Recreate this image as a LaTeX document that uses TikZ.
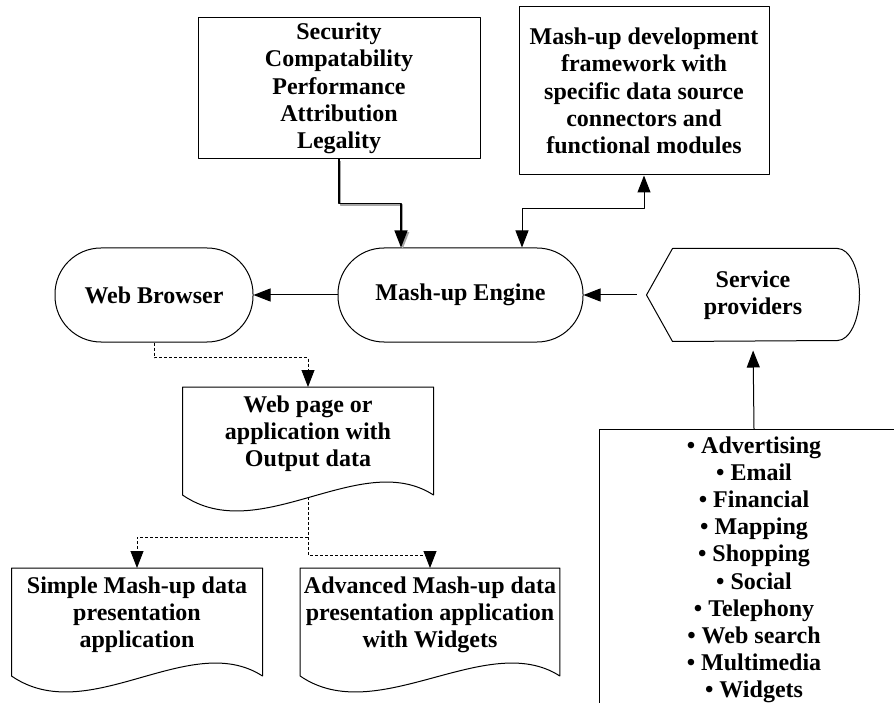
\documentclass[tikz,border=0pt]{standalone}
\usepackage{fontspec}
\setmainfont{Liberation Serif}
\usetikzlibrary{arrows.meta,calc}

\tikzset{
	box/.style={draw, rectangle, align=center},
	pill/.style={draw, rectangle, rounded corners=46, minimum height=94, align=center},
	doc/.style={anchor=north, minimum width=250, inner ysep=8, align=center},
	dashline/.style={dash pattern=on 3pt off 2pt, line width=0.8pt},
	shadowline/.style={line width=1.3pt, preaction={draw=gray!70, line width=1.3pt, transform canvas={shift={(1.6,-1.6)}}}}
}
% outline of a document symbol (wavy bottom)
\newcommand{\docframe}[1]{%
	\draw (#1.north west) -- (#1.north east) -- ($(#1.north east)+(0,-108)$)
	.. controls ($(#1.north east)+(-73,-61)$) and ($(#1.north west)+(77,-161)$) .. ($(#1.north west)+(0,-108)$) -- cycle;}

\begin{document}
\begin{tikzpicture}[x=1pt, y=1pt, line width=1pt, line join=round,
	font=\fontsize{24}{27.2}\selectfont\bfseries, >={Triangle[length=17pt,width=13pt]}]
	\useasboundingbox (0,0) rectangle (894,-703);
	\clip (0,0) rectangle (894,-703);
	% top boxes
	\node[box, minimum width=282, minimum height=141] (secbox) at (339,-88.5)
		{Security\\Compatability\\Performance\\Attribution\\Legality};
	\node[box, minimum width=250, minimum height=168] (frame) at (644,-91)
		{Mash-up development\\framework with\\specific data source\\connectors and\\functional modules};
	% middle row
	\node[pill, minimum width=198] (browser) at (154,-295) {Web Browser};
	\node[pill, minimum width=245] (engine) at (460.5,-295) {Mash-up Engine};
	\node[minimum width=212, minimum height=92, align=center] (service) at (753,-295) {Service\\providers};
	\draw (service.west) -- ([xshift=26]service.north west) -- ([xshift=-22]service.north east)
		arc[start angle=90, end angle=-90, x radius=22, y radius=46] -- ([xshift=26]service.south west) -- cycle;
	% documents
	\node[doc] (webpage) at (308,-387) {Web page or\\application with\\Output data};
	\node[doc] (simple) at (137,-568) {Simple Mash-up data\\presentation\\application};
	\node[doc] (adv) at (430,-568) {Advanced Mash-up data\\presentation application\\with Widgets};
	\docframe{webpage}
	\docframe{simple}
	\docframe{adv}
	\coordinate (webfoot) at ($(webpage.north)+(0,-110)$);
	% service list
	\node[draw, anchor=north, minimum width=310, inner ysep=7, align=center] (list) at (754,-429)
		{\textbullet\ Advertising\\\textbullet\ Email\\\textbullet\ Financial\\\textbullet\ Mapping\\\textbullet\ Shopping\\\textbullet\ Social\\\textbullet\ Telephony\\\textbullet\ Web search\\\textbullet\ Multimedia\\\textbullet\ Widgets};
	% connectors
	\draw[shadowline, ->] (secbox.south) -- ++(0,-44) -| ([xshift=-59.5]engine.north);
	\draw[<->] ([xshift=61.5]engine.north) -- ++(0,39) -| (frame.south);
	\draw[->] (engine) -- (browser);
	\draw[->, shorten <=10pt] (service.west) -- (engine);
	\draw[->, shorten >=9pt] (list.north) -- (service.south);
	\draw[dashline, ->] (browser.south) -- ++(0,-15) -| (webpage.north);
	\draw[dashline, ->] (webfoot) -- ++(0,-40) -| (simple.north);
	\draw[dashline, ->] (webfoot) -- ++(0,-58) -| (adv.north);
\end{tikzpicture}
\end{document}
